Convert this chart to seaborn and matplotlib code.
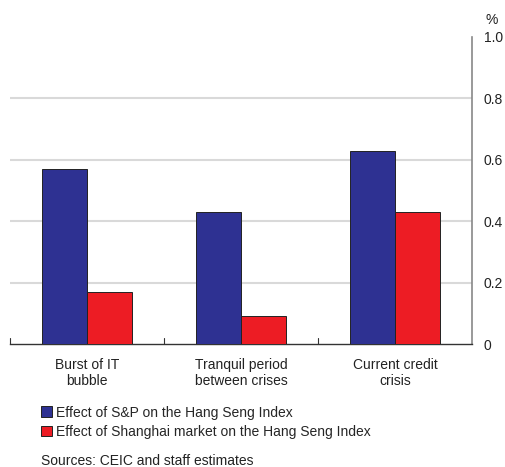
#!/usr/bin/env python3

import matplotlib
matplotlib.use("Agg")
import matplotlib.pyplot as plt
import pandas as pd
import seaborn as sns

categories = ["Burst of IT\nbubble", "Tranquil period\nbetween crises", "Current credit\ncrisis"]
series = ["Effect of S&P on the Hang Seng Index",
          "Effect of Shanghai market on the Hang Seng Index"]
sp_effect = [0.57, 0.43, 0.63]
shanghai_effect = [0.17, 0.09, 0.43]
y_ticks = [0, 0.2, 0.4, 0.6, 0.8, 1.0]
y_tick_labels = ["0", "0.2", "0.4", "0.6", "0.8", "1.0"]

df = pd.DataFrame({
    "category": categories * 2,
    "series": [series[0]] * 3 + [series[1]] * 3,
    "value": sp_effect + shanghai_effect,
})

sns.set_theme(style="white")
plt.rcParams["font.family"] = ["Liberation Sans", "DejaVu Sans"]

fig = plt.figure(figsize=(5.05, 4.67), dpi=100)
ax = fig.add_axes([10 / 505, 1 - 344 / 467, 462 / 505, 307 / 467])

sns.barplot(
    data=df, x="category", y="value", hue="series",
    palette=["#2e3192", "#ed1c24"], width=0.58, gap=0,
    edgecolor="#222222", linewidth=0.7, saturation=1, ax=ax, zorder=3,
)

ax.set_xlim(-0.5, 2.5)
ax.set_ylim(0, 1.0)
ax.set_xlabel("")
ax.set_ylabel("")

# gridlines
for y in y_ticks[1:-1]:
    ax.axhline(y, color="#d9d9d9", lw=1.5, zorder=1)

ax.yaxis.tick_right()
ax.set_yticks(y_ticks)
ax.set_yticklabels(y_tick_labels, fontsize=10, color="#222222")
ax.tick_params(axis="y", length=0, pad=8.5)

ax.set_xticks(range(3))
ax.set_xticklabels(categories, fontsize=10, color="#222222", linespacing=1.15)
ax.tick_params(axis="x", length=0, pad=10)
for xm in [-0.5, 0.5, 1.5]:
    ax.plot([xm, xm], [0, 0.02], color="#333333", lw=0.8, zorder=4, clip_on=False)

for side in ["top", "left"]:
    ax.spines[side].set_visible(False)
ax.spines["right"].set_color("#888888")
ax.spines["right"].set_linewidth(1.2)
ax.spines["bottom"].set_color("#333333")
ax.spines["bottom"].set_linewidth(1.0)

fig.text(492 / 505, 1 - 20 / 467, "%", fontsize=10, ha="center", va="center", color="#222222")

handles, labels = ax.get_legend_handles_labels()
ax.get_legend().remove()
fig.legend(
    handles, labels, loc="upper left", bbox_to_anchor=(35 / 505, 1 - 400 / 467),
    frameon=False, fontsize=10, handlelength=0.8, handleheight=0.8,
    handletextpad=0.3, labelspacing=0.38, borderaxespad=0,
)

fig.text(41 / 505, 1 - 461 / 467, "Sources: CEIC and staff estimates",
         fontsize=10, ha="left", va="center", color="#222222")

fig.savefig("out.png", dpi=100)
